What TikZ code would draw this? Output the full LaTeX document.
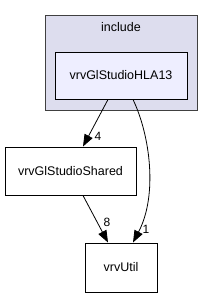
\documentclass[tikz,border=0pt]{standalone}
\usepackage{fontspec}
\setmainfont{Liberation Sans}
\usetikzlibrary{arrows.meta}
\definecolor{clusterfill}{HTML}{DDDDEE}
\definecolor{nodefill}{HTML}{EEEEFF}
\definecolor{edgegray}{HTML}{404040}
\begin{document}
\begin{tikzpicture}[x=1pt,y=-1pt,
  box/.style={draw=black,line width=1pt,inner sep=0pt,font=\fontsize{12.5}{14}\selectfont},
  dep/.style={draw=black,line width=0.8pt,-{Triangle[length=12pt,width=9pt]}},
  lbl/.style={font=\fontsize{12}{14}\selectfont,inner sep=0pt}]
\useasboundingbox (0,0) rectangle (213,297);
\node[draw=edgegray,fill=clusterfill,line width=0.8pt,minimum width=152pt,minimum height=95pt,inner sep=0pt] (cluster) at (121,62.5) {};
\node[font=\fontsize{12.5}{14}\selectfont,inner sep=0pt] (inclbl) at (121,27) {include};
\node[box,fill=nodefill,minimum width=132pt,minimum height=47pt] (hla) at (121,75.5) {vrvGlStudioHLA13};
\node[box,fill=white,minimum width=131pt,minimum height=48pt] (shared) at (70.5,171) {vrvGlStudioShared};
\node[box,fill=white,minimum width=72pt,minimum height=49pt] (util) at (121,267.5) {vrvUtil};
\draw[dep] ([xshift=-13pt]hla.south) -- ([xshift=12.5pt]shared.north);
\draw[dep] ([xshift=12.5pt]shared.south) -- ([xshift=-13pt]util.north);
\draw[dep] ([xshift=12pt]hla.south) .. controls (150,135) and (158,195) .. ([xshift=12pt]util.north);
\node[lbl] (l4) at (98,136) {4};
\node[lbl] (l8) at (107,222) {8};
\node[lbl] (l1) at (146,229) {1};
\end{tikzpicture}
\end{document}
